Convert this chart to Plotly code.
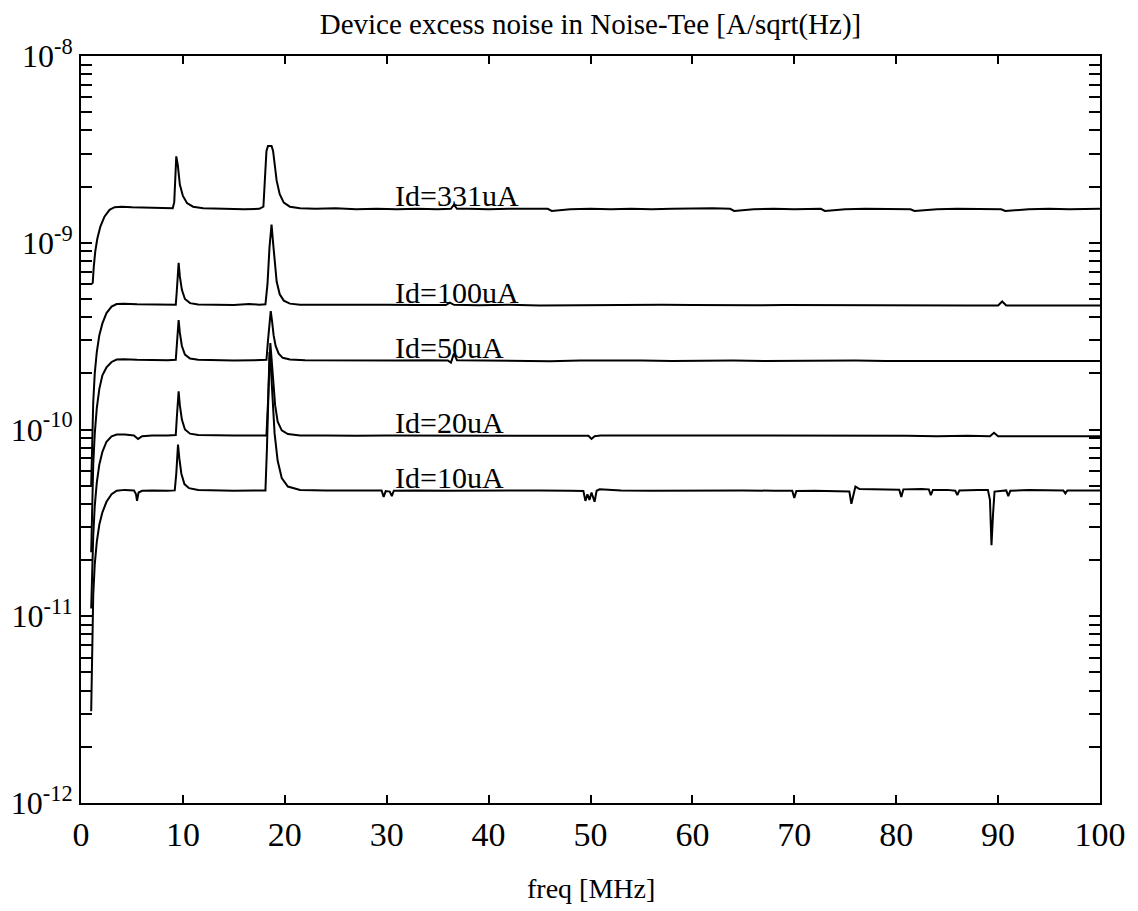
import numpy as np
import plotly.graph_objects as go

# ---------------- data (freq MHz, noise A/sqrt(Hz)) ----------------
id331 = [(1.0, 6.0e-10), (1.15, 6.1e-10), (1.25, 7.4e-10), (1.4, 9.0e-10), (1.6, 1.05e-9), (1.9, 1.22e-9),
         (2.3, 1.38e-9), (2.8, 1.5e-9), (3.3, 1.55e-9), (4.0, 1.56e-9), (5.0, 1.55e-9), (6.5, 1.54e-9),
         (8.0, 1.53e-9), (9.0, 1.53e-9), (9.15, 1.65e-9), (9.25, 2.3e-9), (9.35, 2.9e-9), (9.5, 2.6e-9),
         (9.7, 2.05e-9), (10.0, 1.78e-9), (10.4, 1.63e-9), (11.0, 1.56e-9), (12.0, 1.53e-9), (14.0, 1.52e-9),
         (16.0, 1.51e-9), (17.5, 1.52e-9), (17.9, 1.56e-9), (18.05, 2.2e-9), (18.2, 3.1e-9), (18.35, 3.3e-9),
         (18.7, 3.3e-9), (18.85, 3.1e-9), (19.0, 2.6e-9), (19.2, 2.15e-9), (19.5, 1.82e-9), (19.9, 1.64e-9),
         (20.5, 1.56e-9), (21.5, 1.53e-9), (23, 1.52e-9), (25, 1.53e-9), (27, 1.51e-9), (29, 1.52e-9),
         (31, 1.51e-9), (33, 1.52e-9), (35, 1.51e-9), (36.3, 1.52e-9), (36.6, 1.6e-9), (36.9, 1.52e-9),
         (38, 1.52e-9), (40, 1.51e-9), (42, 1.52e-9), (44, 1.52e-9), (45.8, 1.52e-9), (46.2, 1.48e-9),
         (48, 1.51e-9), (50, 1.52e-9), (52, 1.51e-9), (54, 1.52e-9), (56, 1.51e-9), (58, 1.52e-9),
         (60, 1.53e-9), (62, 1.53e-9), (63.7, 1.52e-9), (64.1, 1.48e-9), (66, 1.51e-9), (68, 1.52e-9),
         (70, 1.51e-9), (72.6, 1.52e-9), (73.0, 1.48e-9), (75, 1.51e-9), (77, 1.52e-9), (79, 1.51e-9),
         (81.4, 1.51e-9), (81.8, 1.48e-9), (84, 1.51e-9), (86, 1.52e-9), (88, 1.51e-9), (90.3, 1.51e-9),
         (90.7, 1.48e-9), (93, 1.51e-9), (95, 1.52e-9), (97, 1.51e-9), (100, 1.52e-9)]

id100 = [(1.0, 5.0e-11), (1.1, 9e-11), (1.2, 1.4e-10), (1.35, 2.0e-10), (1.55, 2.6e-10), (1.8, 3.2e-10),
         (2.1, 3.7e-10), (2.5, 4.2e-10), (3.0, 4.55e-10), (3.5, 4.7e-10), (4.2, 4.72e-10), (5.5, 4.68e-10),
         (7, 4.66e-10), (8.5, 4.65e-10), (9.3, 4.66e-10), (9.4, 5.5e-10), (9.5, 7.0e-10), (9.58, 7.8e-10),
         (9.7, 6.6e-10), (9.9, 5.6e-10), (10.2, 5.0e-10), (10.7, 4.75e-10), (11.5, 4.67e-10), (13, 4.65e-10),
         (15, 4.64e-10), (16.5, 4.7e-10), (17.5, 4.66e-10), (18.1, 4.68e-10), (18.3, 6.0e-10), (18.5, 9.5e-10),
         (18.7, 1.25e-9), (18.85, 1.0e-9), (19.0, 7.8e-10), (19.2, 6.2e-10), (19.5, 5.3e-10), (19.9, 4.9e-10),
         (20.5, 4.72e-10), (21.5, 4.66e-10), (24, 4.65e-10), (27, 4.63e-10), (30, 4.65e-10), (33, 4.64e-10),
         (35.8, 4.64e-10), (36.2, 4.78e-10), (36.6, 4.65e-10), (39, 4.63e-10), (42, 4.65e-10), (45, 4.62e-10),
         (48, 4.64e-10), (51, 4.65e-10), (54, 4.64e-10), (57, 4.66e-10), (60, 4.64e-10), (63, 4.62e-10),
         (66, 4.63e-10), (69, 4.64e-10), (72, 4.63e-10), (75, 4.62e-10), (78, 4.63e-10), (81, 4.64e-10),
         (84, 4.62e-10), (87, 4.62e-10), (90.0, 4.62e-10), (90.4, 4.85e-10), (90.8, 4.62e-10), (93, 4.6e-10),
         (96, 4.61e-10), (100, 4.62e-10)]

id50 = [(1.0, 2.2e-11), (1.1, 4.0e-11), (1.2, 6.5e-11), (1.35, 9.5e-11), (1.55, 1.3e-10), (1.8, 1.65e-10),
        (2.1, 1.95e-10), (2.5, 2.15e-10), (3.0, 2.3e-10), (3.5, 2.37e-10), (4.2, 2.38e-10), (5.5, 2.36e-10),
        (7, 2.35e-10), (8.5, 2.35e-10), (9.3, 2.36e-10), (9.4, 2.8e-10), (9.5, 3.5e-10), (9.58, 3.85e-10),
        (9.7, 3.3e-10), (9.9, 2.8e-10), (10.2, 2.52e-10), (10.7, 2.4e-10), (11.5, 2.36e-10), (13, 2.35e-10),
        (15, 2.34e-10), (17, 2.35e-10), (18.2, 2.36e-10), (18.35, 3.0e-10), (18.5, 3.9e-10), (18.62, 4.3e-10),
        (18.75, 3.8e-10), (18.9, 3.2e-10), (19.1, 2.8e-10), (19.4, 2.55e-10), (19.8, 2.42e-10), (20.5, 2.37e-10),
        (22, 2.35e-10), (25, 2.34e-10), (28, 2.35e-10), (31, 2.34e-10), (34, 2.35e-10), (36.0, 2.34e-10),
        (36.3, 2.28e-10), (36.6, 2.55e-10), (36.9, 2.35e-10), (40, 2.34e-10), (43, 2.35e-10), (46, 2.32e-10),
        (49, 2.34e-10), (52, 2.35e-10), (55, 2.34e-10), (58, 2.33e-10), (61, 2.34e-10), (64, 2.34e-10),
        (67, 2.33e-10), (70, 2.34e-10), (73, 2.33e-10), (76, 2.34e-10), (79, 2.33e-10), (82, 2.33e-10),
        (85, 2.34e-10), (88, 2.33e-10), (91, 2.33e-10), (94, 2.32e-10), (97, 2.33e-10), (100, 2.33e-10)]

id20 = [(1.0, 1.1e-11), (1.1, 1.8e-11), (1.2, 2.7e-11), (1.35, 3.9e-11), (1.55, 5.2e-11), (1.8, 6.5e-11),
        (2.1, 7.6e-11), (2.5, 8.6e-11), (3.0, 9.2e-11), (3.5, 9.4e-11), (4.3, 9.4e-11), (5.2, 9.3e-11),
        (5.6, 8.9e-11), (6.0, 9.2e-11), (7, 9.3e-11), (8.5, 9.3e-11), (9.3, 9.35e-11), (9.4, 1.15e-10),
        (9.5, 1.45e-10), (9.58, 1.6e-10), (9.7, 1.35e-10), (9.9, 1.13e-10), (10.2, 1.0e-10), (10.7, 9.5e-11),
        (11.5, 9.35e-11), (13, 9.3e-11), (15, 9.3e-11), (17, 9.3e-11), (18.2, 9.3e-11), (18.35, 1.4e-10),
        (18.5, 2.3e-10), (18.58, 2.9e-10), (18.7, 2.4e-10), (18.85, 1.8e-10), (19.05, 1.35e-10), (19.3, 1.1e-10),
        (19.7, 9.9e-11), (20.3, 9.45e-11), (21.5, 9.3e-11), (24, 9.3e-11), (27, 9.25e-11), (30, 9.3e-11),
        (33, 9.3e-11), (36, 9.25e-11), (39, 9.3e-11), (42, 9.3e-11), (45, 9.25e-11), (48, 9.3e-11),
        (49.8, 9.25e-11), (50.1, 8.9e-11), (50.4, 9.2e-11), (51, 9.3e-11), (54, 9.3e-11), (57, 9.25e-11),
        (60, 9.3e-11), (63, 9.25e-11), (66, 9.3e-11), (69, 9.25e-11), (72, 9.25e-11), (75, 9.3e-11),
        (78, 9.25e-11), (81, 9.25e-11), (84, 9.2e-11), (87, 9.25e-11), (89.2, 9.2e-11), (89.6, 9.6e-11),
        (90.0, 9.2e-11), (93, 9.2e-11), (96, 9.25e-11), (100, 9.2e-11)]

id10 = [(1.0, 3.1e-12), (1.05, 5e-12), (1.1, 8e-12), (1.2, 1.3e-11), (1.35, 1.9e-11), (1.55, 2.5e-11),
        (1.8, 3.1e-11), (2.1, 3.6e-11), (2.5, 4.1e-11), (3.0, 4.5e-11), (3.5, 4.7e-11), (4.3, 4.75e-11),
        (5.2, 4.72e-11), (5.4, 4.5e-11), (5.5, 4.15e-11), (5.65, 4.6e-11), (6.0, 4.7e-11), (7, 4.72e-11),
        (8.5, 4.7e-11), (9.2, 4.72e-11), (9.35, 5.8e-11), (9.45, 7.5e-11), (9.52, 8.3e-11), (9.65, 7.0e-11),
        (9.85, 5.8e-11), (10.15, 5.1e-11), (10.6, 4.85e-11), (11.5, 4.75e-11), (13, 4.72e-11), (15, 4.7e-11),
        (17, 4.72e-11), (18.1, 4.72e-11), (18.25, 8e-11), (18.4, 1.8e-10), (18.5, 2.6e-10), (18.62, 2.2e-10),
        (18.8, 1.45e-10), (19.0, 9.5e-11), (19.3, 6.8e-11), (19.7, 5.5e-11), (20.3, 4.95e-11), (21.5, 4.75e-11),
        (24, 4.72e-11), (27, 4.7e-11), (29.5, 4.72e-11), (29.7, 4.35e-11), (29.9, 4.68e-11), (30.3, 4.65e-11),
        (30.5, 4.4e-11), (30.7, 4.7e-11), (33, 4.72e-11), (36, 4.7e-11), (39, 4.72e-11), (42, 4.7e-11),
        (45, 4.72e-11), (48, 4.7e-11), (49.3, 4.68e-11), (49.5, 4.15e-11), (49.7, 4.5e-11), (49.9, 4.2e-11),
        (50.1, 4.6e-11), (50.4, 4.1e-11), (50.6, 4.7e-11), (50.9, 4.78e-11), (53, 4.72e-11), (56, 4.7e-11),
        (59, 4.72e-11), (62, 4.7e-11), (65, 4.72e-11), (68, 4.7e-11), (69.8, 4.7e-11), (70.0, 4.3e-11),
        (70.2, 4.68e-11), (72, 4.7e-11), (74, 4.68e-11), (75.4, 4.66e-11), (75.6, 4.0e-11), (75.8, 4.5e-11),
        (76.0, 4.95e-11), (76.4, 4.8e-11), (78, 4.78e-11), (80.3, 4.76e-11), (80.5, 4.35e-11), (80.7, 4.78e-11),
        (82.5, 4.8e-11), (83.2, 4.78e-11), (83.4, 4.45e-11), (83.6, 4.75e-11), (85, 4.75e-11), (85.8, 4.7e-11),
        (86.0, 4.45e-11), (86.2, 4.72e-11), (88, 4.75e-11), (89.0, 4.75e-11), (89.2, 4.2e-11), (89.35, 2.4e-11),
        (89.5, 3.5e-11), (89.65, 4.65e-11), (90.8, 4.72e-11), (91.0, 4.4e-11), (91.2, 4.7e-11), (93, 4.75e-11),
        (96.4, 4.72e-11), (96.6, 4.55e-11), (96.8, 4.72e-11), (100, 4.72e-11)]

series = [("Id=331uA", id331, 1.53e-9), ("Id=100uA", id100, 4.65e-10), ("Id=50uA", id50, 2.35e-10),
          ("Id=20uA", id20, 9.3e-11), ("Id=10uA", id10, 4.72e-11)]

y_tickvals = [1e-12, 1e-11, 1e-10, 1e-9, 1e-8]
y_ticktext = ["10<sup>-12</sup>", "10<sup>-11</sup>", "10<sup>-10</sup>", "10<sup>-9</sup>", "10<sup>-8</sup>"]
x_tickvals = [0, 10, 20, 30, 40, 50, 60, 70, 80, 90, 100]

FONT = "Liberation Serif, Times New Roman, serif"

fig = go.Figure()
annotations = []
for name, pts, level in series:
    f = [p[0] for p in pts]
    v = [p[1] for p in pts]
    fig.add_trace(go.Scatter(x=f, y=v, mode="lines", name=name,
                             line=dict(color="black", width=2), showlegend=False))
    annotations.append(dict(x=30.6, y=np.log10(level), xref="x", yref="y", text=name,
                            showarrow=False, xanchor="left", yanchor="bottom", yshift=-6,
                            font=dict(family=FONT, size=30, color="black")))

annotations.append(dict(x=0.5, y=-0.115, xref="paper", yref="paper", text="freq [MHz]",
                        showarrow=False, xanchor="center", yanchor="middle",
                        font=dict(family=FONT, size=28, color="black")))

fig.update_layout(
    width=1138, height=911,
    margin=dict(l=73, r=46, t=48, b=116, autoexpand=False),
    paper_bgcolor="white", plot_bgcolor="white",
    title=dict(text="Device excess noise in Noise-Tee [A/sqrt(Hz)]", x=0.5, xref="paper",
               y=1 - 16 / 911, yref="container", xanchor="center", yanchor="middle",
               font=dict(family=FONT, size=29, color="black")),
    annotations=annotations,
    font=dict(family=FONT, color="black"),
)
fig.update_xaxes(range=[0, 100], tickvals=x_tickvals, ticks="inside", ticklen=8, tickwidth=1.5,
                 tickcolor="black", showline=True, linecolor="black", linewidth=2, mirror="ticks",
                 showgrid=False, zeroline=False, automargin=False,
                 tickfont=dict(family=FONT, size=34, color="black"))
fig.update_yaxes(type="log", range=[-12, -8], tickvals=y_tickvals, ticktext=y_ticktext,
                 ticks="inside", ticklen=11, tickwidth=1.5, tickcolor="black",
                 minor=dict(ticks="inside", ticklen=11, tickwidth=1.5, tickcolor="black", dtick="D1", showgrid=False),
                 showline=True, linecolor="black", linewidth=2, mirror="ticks",
                 showgrid=False, zeroline=False, automargin=False,
                 tickfont=dict(family=FONT, size=32, color="black"))

fig.write_html("out.html")
